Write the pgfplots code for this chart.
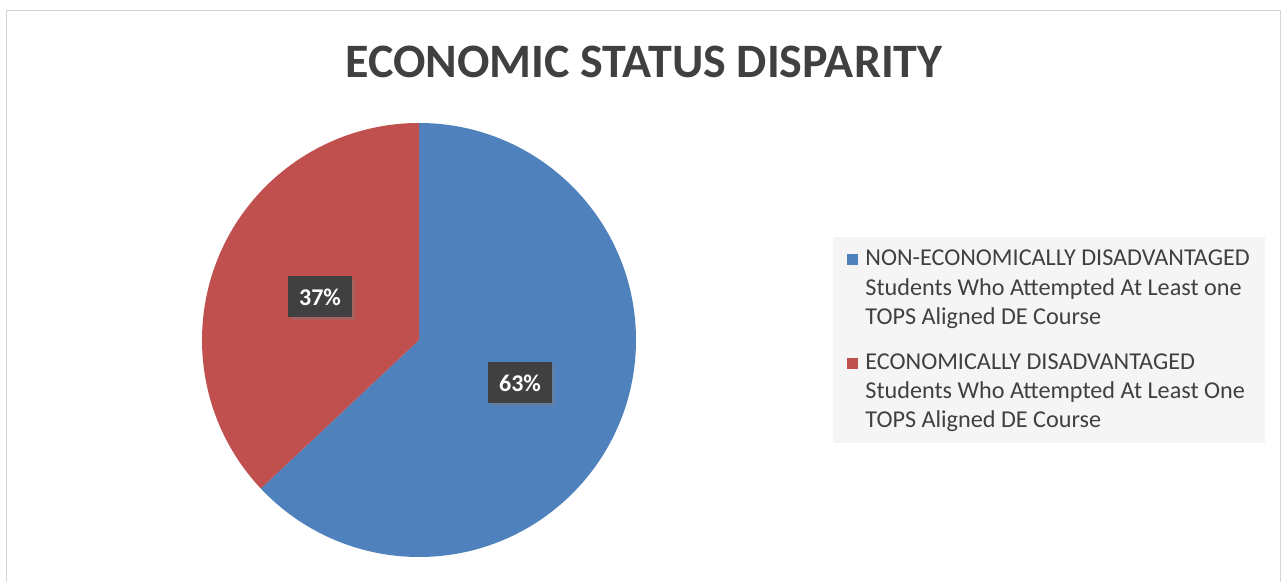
\documentclass[border=0pt]{standalone}
\usepackage{pgfplots}
\pgfplotsset{compat=1.18}
\usepackage{pgfplotstable}
\usepackage{fontspec}
\setmainfont{Carlito}
\usetikzlibrary{shadows}
\definecolor{pieblue}{HTML}{4F81BD}
\definecolor{piered}{HTML}{C0504D}
\definecolor{txt}{HTML}{404040}
\definecolor{framegray}{HTML}{D4D4D4}
\definecolor{legbg}{HTML}{F5F5F5}

\pgfplotstableread{
share
63
37
}\piedata

\begin{document}
\begin{tikzpicture}
\pgfplotstablegetelem{0}{share}\of\piedata \global\let\vA\pgfplotsretval
\pgfplotstablegetelem{1}{share}\of\piedata \global\let\vB\pgfplotsretval
\begin{axis}[scale only axis, width=641pt, height=291pt,
  xmin=0, xmax=1282, ymin=0, ymax=582, hide axis, clip=false]
% invisible extent
\path (axis cs:0,0) rectangle (axis cs:1282,582);
% frame
\draw[framegray, line width=0.9pt] (axis cs:6.5,0) -- (axis cs:6.5,571.5) -- (axis cs:1280.5,571.5) -- (axis cs:1280.5,0);
% title
\node[anchor=base, text=txt, font=\fontsize{24}{28}\selectfont\bfseries] at (axis cs:644,504) {ECONOMIC STATUS DISPARITY};
% pie
\fill[pieblue] (axis cs:419,242) -- ++(90:108.5pt) arc[start angle=90, end angle={90-3.6*\vA}, radius=108.5pt] -- cycle;
\fill[piered] (axis cs:419,242) -- ++({90-3.6*\vA}:108.5pt) arc[start angle={90-3.6*\vA}, end angle={90-3.6*\vA-3.6*\vB}, radius=108.5pt] -- cycle;
% data labels
\node[fill=txt, text=white, font=\fontsize{12}{14}\selectfont\bfseries, minimum width=32pt, minimum height=20.5pt, inner sep=0pt, drop shadow={opacity=0.35, shadow xshift=1.5pt, shadow yshift=-1.5pt}] at (axis cs:320,285) {\vB\%};
\node[fill=txt, text=white, font=\fontsize{12}{14}\selectfont\bfseries, minimum width=32pt, minimum height=20.5pt, inner sep=0pt, drop shadow={opacity=0.35, shadow xshift=1.5pt, shadow yshift=-1.5pt}] at (axis cs:520,199) {\vA\%};
% legend
\fill[legbg] (axis cs:833,139) rectangle (axis cs:1265,345);
\fill[pieblue] (axis cs:847,317) rectangle (axis cs:858,328);
\fill[piered] (axis cs:847,213) rectangle (axis cs:858,224);
\begin{scope}[every node/.style={anchor=base west, inner sep=0pt, text=txt, font=\fontsize{12.1}{14}\selectfont}]
\node at (axis cs:865,316) {NON-ECONOMICALLY DISADVANTAGED};
\node at (axis cs:865,286) {Students Who Attempted At Least one};
\node at (axis cs:865,257) {TOPS Aligned DE Course};
\node at (axis cs:865,212) {ECONOMICALLY DISADVANTAGED};
\node at (axis cs:865,183) {Students Who Attempted At Least One};
\node at (axis cs:865,154) {TOPS Aligned DE Course};
\end{scope}
\end{axis}
\end{tikzpicture}
\end{document}
